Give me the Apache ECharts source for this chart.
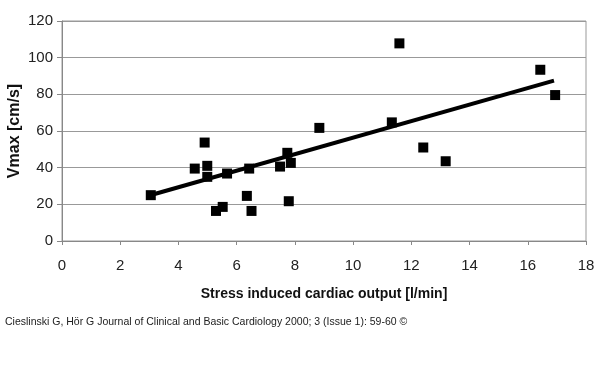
<!DOCTYPE html>
<html>
<head>
<meta charset="utf-8">
<script src="https://cdn.jsdelivr.net/npm/echarts@6/dist/echarts.min.js"></script>
<style>
html,body{margin:0;padding:0;background:#fff;}
#chart{width:600px;height:367px;}
</style>
</head>
<body>
<div id="chart"></div>
<script>
// Data
var outputX = [3.05, 4.56, 4.90, 4.99, 4.99, 5.29, 5.52, 5.67, 6.35, 6.43, 6.51, 7.49, 7.74, 7.86, 7.79, 8.84, 11.33, 11.59, 12.41, 13.18, 16.43, 16.94];
var vmaxY   = [25, 39.5, 53.7, 41, 35, 16.4, 18.6, 36.8, 24.6, 39.5, 16.4, 40.6, 48.1, 42.6, 21.7, 61.7, 64.7, 107.8, 51, 43.5, 93.4, 79.6];
var trendX = [3.0, 16.9];
var trendY = [24.8, 87.5];
var xTicks = [0, 2, 4, 6, 8, 10, 12, 14, 16, 18];
var yTicks = [0, 20, 40, 60, 80, 100, 120];
var xTitle = 'Stress induced cardiac output [l/min]';
var yTitle = 'Vmax [cm/s]';
var citation = 'Cieslinski G, Hör G Journal of Clinical and Basic Cardiology 2000; 3 (Issue 1): 59-60 ©';

var chart = echarts.init(document.getElementById('chart'), null, {renderer: 'canvas'});
var scatterData = outputX.map(function (x, i) { return [x, vmaxY[i]]; });
var trendData = trendX.map(function (x, i) { return [x, trendY[i]]; });

chart.setOption({
  animation: false,
  backgroundColor: '#fff',
  title: {
    text: citation,
    left: 0,
    top: 312,
    textStyle: {fontFamily: 'Liberation Sans, Arial, sans-serif', fontSize: 10.5, fontWeight: 'normal', color: '#222'}
  },
  grid: {
    left: 62, right: 14, top: 21, bottom: 126,
    containLabel: false,
    outerBoundsMode: 'none',
    show: true, borderColor: '#999', borderWidth: 1
  },
  xAxis: {
    type: 'value',
    min: xTicks[0], max: xTicks[xTicks.length - 1], interval: 2,
    name: xTitle,
    nameLocation: 'middle',
    nameGap: 53,
    nameMoveOverlap: false,
    nameTextStyle: {fontFamily: 'Liberation Sans, Arial, sans-serif', fontSize: 14, fontWeight: 'bold', color: '#111', verticalAlign: 'middle'},
    axisLine: {show: true, lineStyle: {color: '#888', width: 1}},
    axisTick: {show: true, length: 4, lineStyle: {color: '#888'}},
    axisLabel: {fontFamily: 'Liberation Sans, Arial, sans-serif', fontSize: 15, color: '#222', margin: 17},
    splitLine: {show: false}
  },
  yAxis: {
    type: 'value',
    min: yTicks[0], max: yTicks[yTicks.length - 1], interval: 20,
    name: yTitle,
    nameLocation: 'middle',
    nameGap: 47,
    nameRotate: 90,
    nameMoveOverlap: false,
    nameTextStyle: {fontFamily: 'Liberation Sans, Arial, sans-serif', fontSize: 16, fontWeight: 'bold', color: '#111', verticalAlign: 'middle'},
    axisLine: {show: true, lineStyle: {color: '#888', width: 1}},
    axisTick: {show: true, length: 5, lineStyle: {color: '#888'}},
    axisLabel: {fontFamily: 'Liberation Sans, Arial, sans-serif', fontSize: 15, color: '#222', margin: 9},
    splitLine: {show: true, lineStyle: {color: '#999', width: 1}}
  },
  series: [
    {
      type: 'line',
      data: trendData,
      symbol: 'none',
      lineStyle: {color: '#000', width: 4},
      z: 2
    },
    {
      type: 'scatter',
      data: scatterData,
      symbol: 'rect',
      symbolSize: 10,
      itemStyle: {color: '#000', opacity: 1},
      z: 3
    }
  ]
});
</script>
</body>
</html>
